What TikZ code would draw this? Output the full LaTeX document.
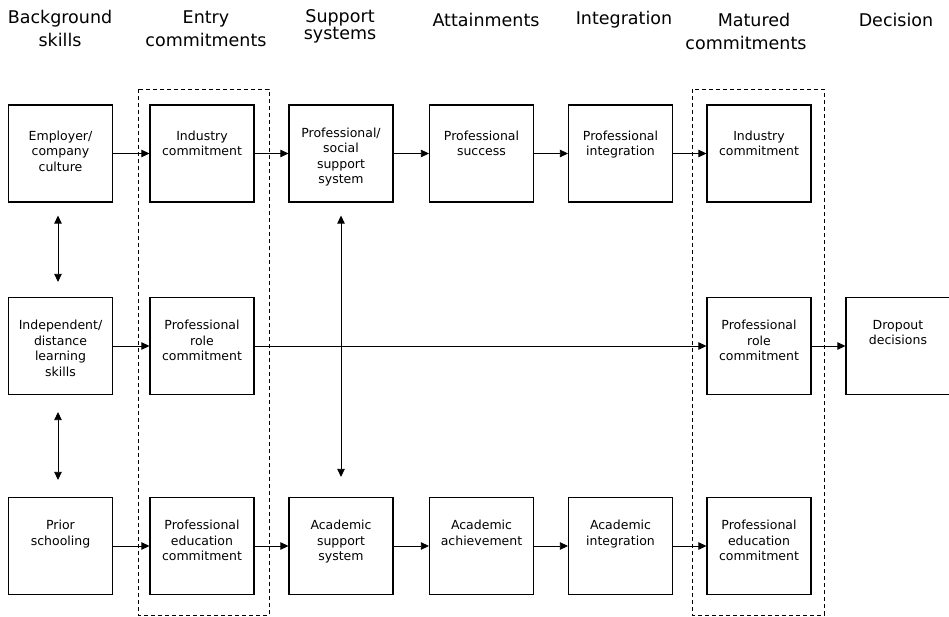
\documentclass[tikz,border=0pt]{standalone}
\usepackage{fontspec}
\setmainfont{DejaVu Sans}
\usetikzlibrary{arrows.meta}
\begin{document}
\begin{tikzpicture}[x=1pt,y=-1pt,
  box/.style={draw, line width=1.2pt, minimum width=104pt, minimum height=97pt, inner sep=0pt},
  lbl/.style={anchor=north, yshift=-23pt, align=center, inner sep=0pt, font=\fontsize{12.5}{15.5}\selectfont},
  lblA/.style={lbl, yshift=-3pt},
  hdr/.style={align=center, inner sep=0pt, font=\fontsize{17.5}{23}\selectfont},
  tip/.tip={Triangle[length=8pt,width=7.5pt]},
  arr/.style={line width=0.8pt, -tip},
  darr/.style={line width=0.8pt, tip-tip},
  frame/.style={line width=0.9pt, dash pattern=on 4pt off 3pt}]
\useasboundingbox (0,0) rectangle (949,617);

% headers
\node[hdr] (h1) at (60,28) {Background\\skills};
\node[hdr] (h2) at (206,29) {Entry\\commitments};
\node[hdr, font=\fontsize{17.5}{17}\selectfont] (h3) at (340,26) {Support\\systems};
\node[hdr] (h4) at (486,20) {Attainments};
\node[hdr] (h5) at (624,20) {Integration};
\node[hdr] (h6) at (746,31) {\hspace*{16pt}Matured\\commitments};
\node[hdr] (h7) at (896,20) {Decision};

% dashed frames
\draw[frame] (138,89) rectangle (269,615);
\draw[frame] (692,89) rectangle (824,615);

% row 1
\node[box, label={[lblA]north:{Employer/\\company\\culture}}] (e1) at (60.5,153.5) {};
\node[box, label={[lblA]north:{Industry\\commitment}}] (ic1) at (202,153.5) {};
\node[box, label={[lbl]north:{Professional/\\social\\support\\system}}] (ps) at (341,153.5) {};
\node[box, label={[lblA]north:{Professional\\success}}] (pss) at (481.5,153.5) {};
\node[box, label={[lblA]north:{Professional\\integration}}] (pi) at (620.5,153.5) {};
\node[box, label={[lblA]north:{Industry\\commitment}}] (ic2) at (759,153.5) {};

% row 2
\node[box, label={[lbl]north:{Independent/\\distance\\learning\\skills}}] (ind) at (60.5,346) {};
\node[box, label={[lbl]north:{Professional\\role\\commitment}}] (pr1) at (202,346) {};
\node[box, label={[lbl]north:{Professional\\role\\commitment}}] (pr2) at (759,346) {};
\node[box, label={[lbl]north:{Dropout\\decisions}}] (dd) at (898,346) {};

% row 3
\node[box, label={[lbl]north:{Prior\\schooling}}] (psch) at (60.5,546) {};
\node[box, label={[lbl]north:{Professional\\education\\commitment}}] (pe1) at (202,546) {};
\node[box, label={[lbl]north:{Academic\\support\\system}}] (as) at (341,546) {};
\node[box, label={[lbl]north:{Academic\\achievement}}] (aa) at (481.5,546) {};
\node[box, label={[lbl]north:{Academic\\integration}}] (ai) at (620.5,546) {};
\node[box, label={[lbl]north:{Professional\\education\\commitment}}] (pe2) at (759,546) {};

% horizontal arrows
\draw[arr] (e1) -- (ic1);
\draw[arr] (ic1) -- (ps);
\draw[arr] (ps) -- (pss);
\draw[arr] (pss) -- (pi);
\draw[arr] (pi) -- (ic2);
\draw[arr] (ind) -- (pr1);
\draw[arr] (pr1) -- (pr2);
\draw[arr] (pr2) -- (dd);
\draw[arr] (psch) -- (pe1);
\draw[arr] (pe1) -- (as);
\draw[arr] (as) -- (aa);
\draw[arr] (aa) -- (ai);
\draw[arr] (ai) -- (pe2);

% vertical double arrows
\draw[darr, shorten <=13pt, shorten >=15pt] ([xshift=-2.5pt]e1.south) -- ([xshift=-2.5pt]ind.north);
\draw[darr, shorten <=17pt, shorten >=17pt] ([xshift=-2.5pt]ind.south) -- ([xshift=-2.5pt]psch.north);
\draw[darr, shorten <=13pt, shorten >=20pt] (ps.south) -- (as.north);
\end{tikzpicture}
\end{document}
